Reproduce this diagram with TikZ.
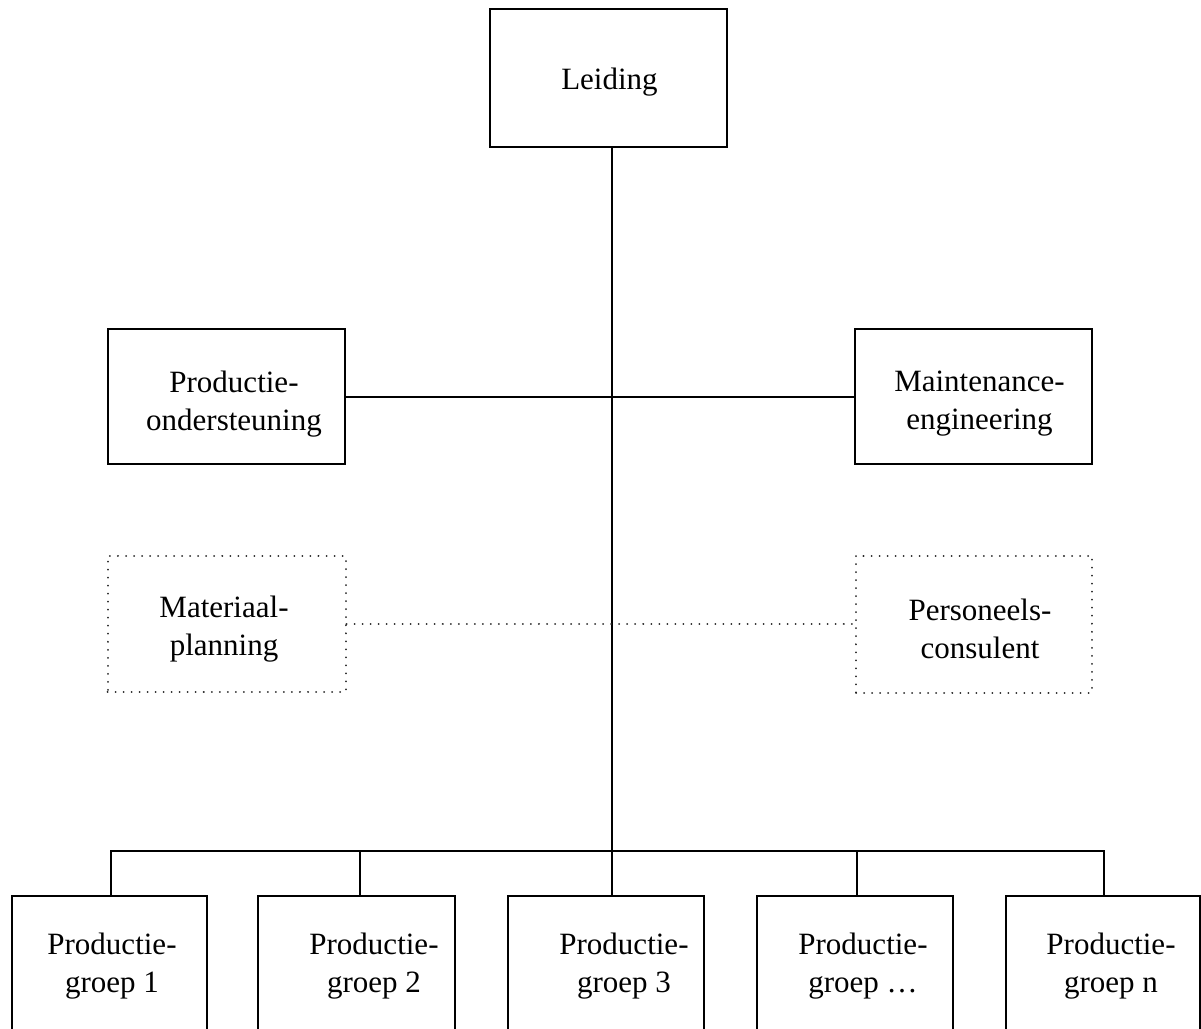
\documentclass[tikz,border=0pt]{standalone}
\usepackage{fontspec}
\setmainfont{Liberation Serif}
\begin{document}
\begin{tikzpicture}[x=0.5pt,y=-0.5pt,
  solidbox/.style={draw=black, line width=1.1pt, rectangle, inner sep=0pt},
  dotbox/.style={draw=black!85, line width=1pt, line cap=round, dash pattern=on 0.01pt off 4pt, rectangle, inner sep=0pt},
  lbl/.style={inner sep=0pt, align=center, font=\fontsize{15.5pt}{19pt}\selectfont},
  conn/.style={line width=1pt, black},
  dotconn/.style={line width=1pt, black!85, line cap=round, dash pattern=on 0.01pt off 4pt}]
\useasboundingbox (0,0) rectangle (1201,1029);
\clip (0,0) rectangle (1201,1029);
\fill[white] (0,0) rectangle (1201,1029);

% boxes
\node[solidbox, minimum width=118.5pt, minimum height=69pt] (lei) at (608.5,78) {};
\node[solidbox, minimum width=118.5pt, minimum height=67.5pt] (po) at (226.5,396.5) {};
\node[solidbox, minimum width=118.5pt, minimum height=67.5pt] (me) at (973.5,396.5) {};
\node[dotbox, minimum width=119pt, minimum height=68pt] (mp) at (226.5,624) {};
\node[dotbox, minimum width=118pt, minimum height=68.5pt] (pc) at (974,624) {};
\node[solidbox, minimum width=97.5pt, minimum height=102pt] (g1) at (109.5,998) {};
\node[solidbox, minimum width=98.5pt, minimum height=102pt] (g2) at (356.5,998) {};
\node[solidbox, minimum width=98pt, minimum height=102pt] (g3) at (606,998) {};
\node[solidbox, minimum width=98pt, minimum height=102pt] (g4) at (855,998) {};
\node[solidbox, minimum width=97pt, minimum height=102pt] (g5) at (1103,998) {};

% labels
\node[lbl] (tlei) at (609.5,82) {Leiding};
\node[lbl] (tpo) at (234,404) {Productie-\\ondersteuning};
\node[lbl] (tme) at (979.5,404) {Maintenance-\\engineering};
\node[lbl] (tmp) at (224,629) {Materiaal-\\planning};
\node[lbl] (tpc) at (980,629) {Personeels-\\consulent};
\node[lbl] (tg1) at (112,966) {Productie-\\groep 1};
\node[lbl] (tg2) at (374,966) {Productie-\\groep 2};
\node[lbl] (tg3) at (624,966) {Productie-\\groep 3};
\node[lbl] (tg4) at (863,966) {Productie-\\groep \ldots};
\node[lbl] (tg5) at (1111,966) {Productie-\\groep n};

% bus junctions
\coordinate (j1) at (111,851);
\coordinate (j2) at (360,851);
\coordinate (j3) at (612,851);
\coordinate (j4) at (857,851);
\coordinate (j5) at (1104,851);

% connectors
\draw[conn] (lei.south -| j3) -- (j3) -- (g3.north -| j3);
\draw[conn] (po.east) -- (me.west);
\draw[dotconn] (mp.east) -- (pc.west);
\draw[conn] (g1.north -| j1) -- (j1) -- (j5) -- (g5.north -| j5);
\draw[conn] (j2) -- (g2.north -| j2);
\draw[conn] (j4) -- (g4.north -| j4);
\end{tikzpicture}
\end{document}
